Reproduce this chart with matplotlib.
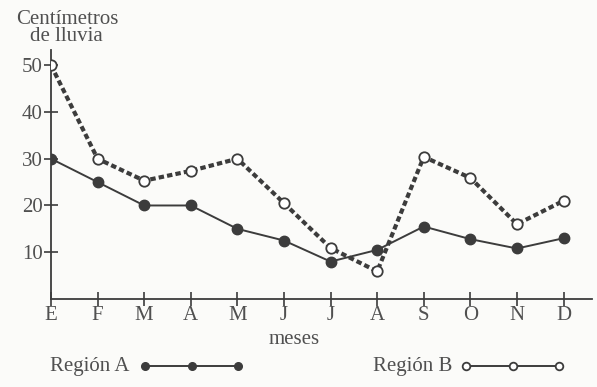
import matplotlib.pyplot as plt
from matplotlib.lines import Line2D

# datos (cm de lluvia por mes)
meses = ['E', 'F', 'M', 'A', 'M', 'J', 'J', 'A', 'S', 'O', 'N', 'D']
region_a = [30, 25, 20, 20, 15, 12.5, 8, 10.5, 15.5, 12.8, 10.8, 13]
region_b = [50, 30, 25.3, 27.4, 30, 20.5, 10.9, 5.9, 30.4, 25.9, 16, 21]
yticks = [10, 20, 30, 40, 50]

plt.rcParams['font.family'] = ['Liberation Serif', 'DejaVu Serif']
gris = '#3c3c3c'
texto = '#505050'

fig = plt.figure(figsize=(5.97, 3.87), dpi=100, facecolor='#fbfbf9')
ax = fig.add_axes([0.0854, 0.2274, 0.907, 0.644])
ax.set_facecolor('none')

x = list(range(len(meses)))
ax.plot(x, region_b, color=gris, lw=3, dashes=(1.3, 0.75), zorder=2)
ax.plot(x, region_b, ls='none', marker='o', ms=7.5, mfc='white', mec=gris,
        mew=1.3, zorder=4)
ax.plot(x, region_a, color=gris, lw=1.4, marker='o', ms=7.5, mfc=gris,
        mec=gris, zorder=3)

ax.set_xlim(0, 11.62)
ax.set_ylim(0, 53.3)
ax.set_xticks(x)
ax.set_xticklabels(meses)
ax.set_yticks(yticks)
for s in ['top', 'right']:
    ax.spines[s].set_visible(False)
for s in ['left', 'bottom']:
    ax.spines[s].set_color(gris)
    ax.spines[s].set_linewidth(1.3)
ax.tick_params(direction='inout', length=10, width=1.2, color=gris,
               labelsize=15, labelcolor=texto, pad=0)
ax.tick_params(axis='y', pad=1)

ax.set_xlabel('meses', fontsize=15, color=texto, labelpad=0)
ax.xaxis.set_label_coords(0.449, -0.125)
fig.text(0.112, 0.882, 'Centímetros\nde lluvia', ha='center', va='bottom',
         fontsize=15, color=texto, linespacing=0.85)

# leyenda dibujada a mano
fig.text(0.083, 0.054, 'Región A', fontsize=15, color=texto, va='center')
fig.add_artist(Line2D([0.243, 0.322, 0.399], [0.054] * 3,
                      transform=fig.transFigure, color=gris, lw=1.4,
                      marker='o', ms=5.5, mfc=gris, mec=gris))
fig.text(0.625, 0.054, 'Región B', fontsize=15, color=texto, va='center')
fig.add_artist(Line2D([0.781, 0.859, 0.936], [0.054] * 3,
                      transform=fig.transFigure, color=gris, lw=1.4,
                      marker='o', ms=5.5, mfc='white', mec=gris, mew=1.3))

plt.savefig('out.png', dpi=100, facecolor=fig.get_facecolor())
